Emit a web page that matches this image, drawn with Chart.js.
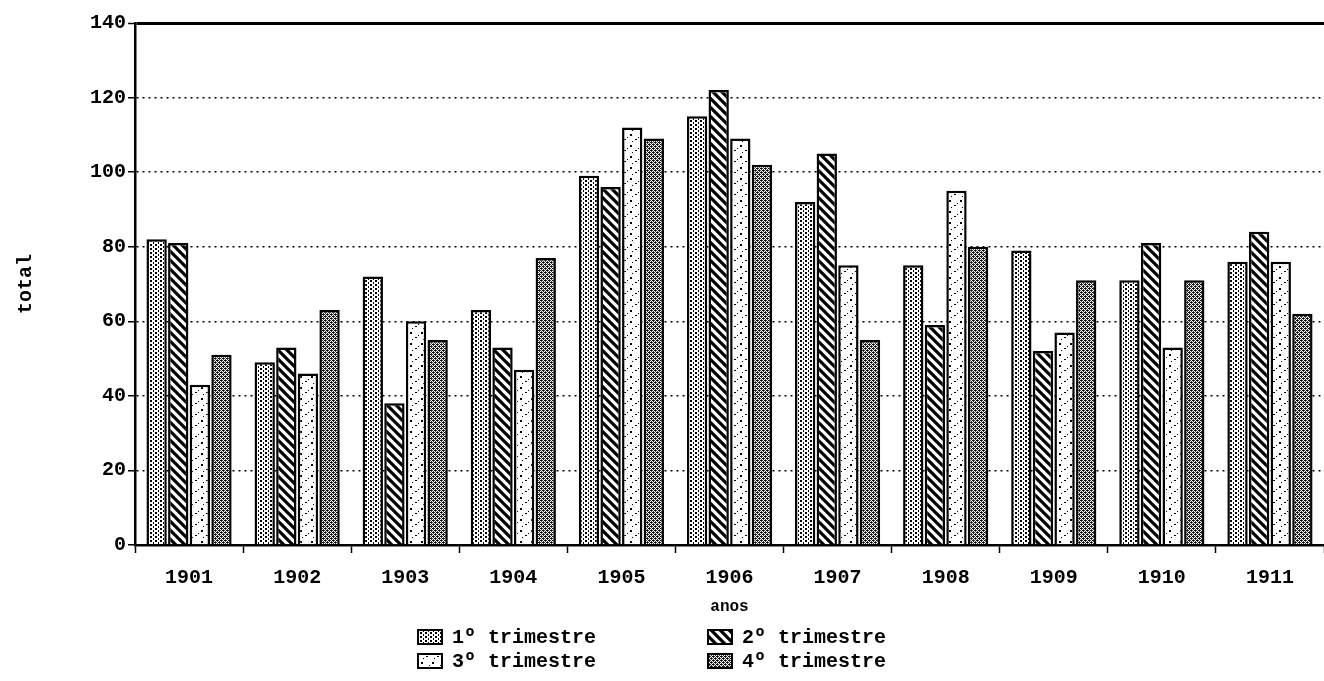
<!DOCTYPE html>
<html>
<head>
<meta charset="utf-8">
<script src="https://cdn.jsdelivr.net/npm/chart.js@4"></script>
<style>
  body { margin: 0; background: #fff; }
  canvas { display: block; }
</style>
</head>
<body>
<canvas id="chart" width="1324" height="681"></canvas>
<script>
// data
const anos = ['1901', '1902', '1903', '1904', '1905', '1906', '1907', '1908', '1909', '1910', '1911'];
const trim1 = [82, 49, 72, 63, 99, 115, 92, 75, 79, 71, 76];
const trim2 = [81, 53, 38, 53, 96, 122, 105, 59, 52, 81, 84];
const trim3 = [43, 46, 60, 47, 112, 109, 75, 95, 57, 53, 76];
const trim4 = [51, 63, 55, 77, 109, 102, 55, 80, 71, 71, 62];
const serieNames = ['1º trimestre', '2º trimestre', '3º trimestre', '4º trimestre'];
const yTicks = [0, 20, 40, 60, 80, 100, 120, 140];

const FONT = '"Liberation Mono", "DejaVu Sans Mono", monospace';

// small tiles turned into fill patterns (the scan is black & white)
function makePattern(w, h, draw) {
    const c = document.createElement('canvas');
    c.width = w; c.height = h;
    const g = c.getContext('2d');
    g.fillStyle = '#fff';
    g.fillRect(0, 0, w, h);
    g.fillStyle = '#000';
    g.strokeStyle = '#000';
    draw(g);
    return g.createPattern(c, 'repeat');
}

const patDots = makePattern(5, 4, g => {
    g.fillRect(0, 0, 2, 2);
    g.fillRect(3, 2, 1, 2);
});
const patHatch = makePattern(9, 9, g => {
    g.lineWidth = 3.2;
    g.beginPath();
    g.moveTo(-2, -2); g.lineTo(11, 11);
    g.moveTo(-11, -2); g.lineTo(2, 11);
    g.moveTo(7, -2); g.lineTo(20, 11);
    g.stroke();
});
const patSpeck = makePattern(11, 11, g => {
    g.fillRect(3, 2, 2, 2);
    g.fillRect(8, 7, 2, 1);
    g.fillRect(5, 9, 1, 1);
    g.fillRect(0, 5, 1, 1);
});
const patCross = makePattern(4, 4, g => {
    g.fillStyle = '#444';
    g.fillRect(0, 0, 1, 1); g.fillRect(2, 0, 1, 1);
    g.fillRect(1, 1, 1, 1); g.fillRect(3, 1, 1, 1);
    g.fillRect(0, 2, 1, 1); g.fillRect(2, 2, 1, 1);
    g.fillRect(1, 3, 1, 1); g.fillRect(3, 3, 1, 1);
    g.fillStyle = '#000';
    g.fillRect(0, 0, 2, 1); g.fillRect(2, 2, 2, 1);
});
const patterns = [patDots, patHatch, patSpeck, patCross];
const series = [trim1, trim2, trim3, trim4];

// legend in a 2 x 2 grid under the axis title
const gridLegend = {
    id: 'gridLegend',
    afterDraw(chart) {
        const ctx = chart.ctx;
        const cols = [418, 708];
        const rows = [637, 661];
        ctx.save();
        ctx.font = 'bold 20px ' + FONT;
        ctx.textBaseline = 'middle';
        chart.data.datasets.forEach((ds, i) => {
            const x = cols[i % 2];
            const y = rows[Math.floor(i / 2)];
            ctx.fillStyle = ds.backgroundColor;
            ctx.fillRect(x, y - 7, 24, 14);
            ctx.lineWidth = 2;
            ctx.strokeStyle = '#000';
            ctx.strokeRect(x, y - 7, 24, 14);
            ctx.fillStyle = '#000';
            ctx.fillText(ds.label, x + 34, y + 1);
        });
        ctx.restore();
    }
};

new Chart(document.getElementById('chart'), {
    type: 'bar',
    data: {
        labels: anos,
        datasets: series.map((vals, i) => ({
            label: serieNames[i],
            data: vals,
            backgroundColor: patterns[i],
            borderColor: '#000',
            borderWidth: 2.5,
            categoryPercentage: 0.8,
            barPercentage: 0.94
        }))
    },
    options: {
        responsive: false,
        animation: false,
        layout: { padding: { top: 23, right: 0, bottom: 60, left: 0 } },
        plugins: {
            legend: { display: false },
            tooltip: { enabled: false }
        },
        scales: {
            x: {
                afterFit: s => { s.height = 76; },
                grid: {
                    offset: true,
                    drawOnChartArea: false,
                    tickLength: 8,
                    tickColor: '#000',
                    tickWidth: 1.5
                },
                border: { color: '#000', width: 2.5 },
                ticks: {
                    color: '#000',
                    padding: 13,
                    maxRotation: 0,
                    font: { family: FONT, size: 20, weight: 'bold' }
                },
                title: {
                    display: true,
                    text: 'anos',
                    color: '#000',
                    padding: { top: 0, bottom: 4 },
                    font: { family: FONT, size: 16, weight: 'bold' }
                }
            },
            y: {
                min: 0,
                max: 140,
                afterFit: s => { s.width = 135; },
                afterBuildTicks: s => { s.ticks = yTicks.map(v => ({ value: v })); },
                grid: {
                    color: '#000',
                    lineWidth: c => (c.tick && c.tick.value === 140) ? 3 : 1.5,
                    tickLength: 7,
                    tickColor: '#000',
                    tickWidth: 1.5
                },
                border: {
                    color: '#000',
                    width: 2.5,
                    dash: c => (c.tick && c.tick.value === 140) ? [] : [2, 4]
                },
                ticks: {
                    color: '#000',
                    padding: 2,
                    font: { family: FONT, size: 20, weight: 'bold' }
                },
                title: {
                    display: true,
                    text: 'total',
                    color: '#000',
                    padding: { top: 14, bottom: 0 },
                    font: { family: FONT, size: 20, weight: 'bold' }
                }
            }
        }
    },
    plugins: [gridLegend]
});
</script>
</body>
</html>
